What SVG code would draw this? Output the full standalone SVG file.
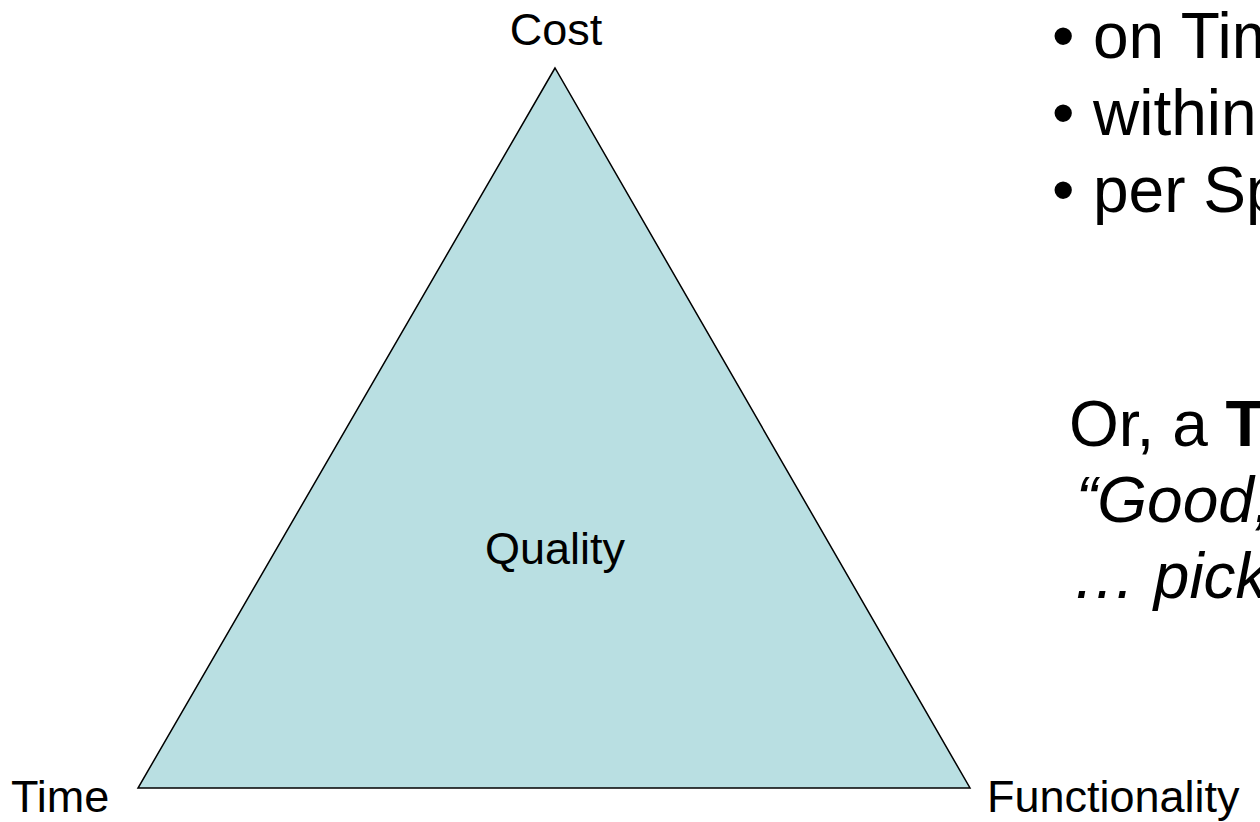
<svg xmlns="http://www.w3.org/2000/svg" width="1260" height="822" viewBox="0 0 1260 822">
<style>
text{font-family:"Liberation Sans",Arial,sans-serif;fill:#000}
.lbl{font-size:45px}
.big{font-size:64px}
.it{font-style:italic}
.b{font-weight:bold}
</style>
<rect width="1260" height="822" fill="#fff"/>
<g id="triangle">
<polygon points="555,68 138,788 970,788" fill="#B9DFE2" stroke="#000" stroke-width="1.5" stroke-linejoin="miter"/>
<text class="lbl" x="555" y="564" text-anchor="middle">Quality</text>
</g>
<g id="connectors"/>
<g id="cost"><text class="lbl" x="556" y="45" text-anchor="middle">Cost</text></g>
<g id="time"><text class="lbl" x="11" y="812">Time</text></g>
<g id="functionality"><text class="lbl" x="987" y="812">Functionality</text></g>
<g id="bullets">
<text class="big" x="1052" y="58">•</text><text class="big" x="1093" y="58">on Time</text>
<text class="big" x="1052" y="135">•</text><text class="big" x="1093" y="135">within Budget</text>
<text class="big" x="1052" y="212">•</text><text class="big" x="1093" y="212">per Specification</text>
</g>
<g id="tradeoff">
<text class="big" x="1069" y="446">Or, a <tspan class="b">Triangle</tspan></text>
<text class="big it" x="1076" y="522">“Good, Fast, Cheap”</text>
<text class="big it" x="1072" y="598">… pick any two</text>
</g>
</svg>
